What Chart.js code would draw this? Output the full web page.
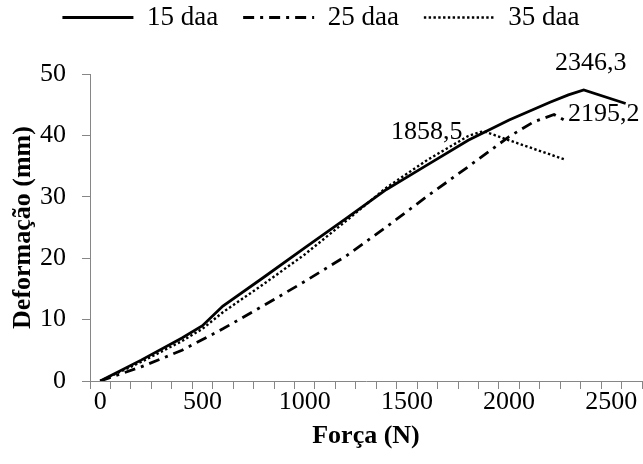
<!DOCTYPE html>
<html>
<head>
<meta charset="utf-8">
<script src="https://cdn.jsdelivr.net/npm/chart.js@4.4.0/dist/chart.umd.min.js"></script>
<style>
  html, body { margin: 0; padding: 0; background: #fff; overflow: hidden; }
  #wrap { width: 643px; height: 464px; overflow: hidden; }
  /* canvas is a bit taller and shifted up so the legend sits close to the top edge */
  #chart { display: block; margin-top: -21px; }
</style>
</head>
<body>
<div id="wrap"><canvas id="chart" width="643" height="485"></canvas></div>
<script>
// --- DATA ---
const seriesNames = ['15 daa', '25 daa', '35 daa'];

const force15 = [0, 200, 400, 500, 600, 800, 1000, 1200, 1400, 1600, 1800, 2000, 2200, 2290, 2365, 2570];
const def15   = [0, 3.4, 7.0, 9.0, 12.2, 16.9, 21.7, 26.4, 31.2, 35.2, 39.2, 42.5, 45.4, 46.6, 47.4, 45.2];

const force25 = [0, 200, 400, 600, 800, 1000, 1200, 1400, 1600, 1800, 2000, 2120, 2220, 2280];
const def25   = [0, 2.3, 5.0, 8.5, 12.3, 16.2, 20.3, 25.1, 30.1, 34.9, 39.8, 42.2, 43.4, 42.3];

const force35 = [0, 200, 400, 500, 600, 800, 1000, 1200, 1400, 1600, 1800, 1875, 2000, 2270];
const def35   = [0, 3.1, 6.5, 8.5, 11.2, 15.8, 20.6, 26.0, 31.5, 36.0, 39.9, 40.7, 39.2, 36.1];

const peakText = ['2346,3', '2195,2', '1858,5'];
const peakSide = ['top', 'right', 'left'];

const xTickLabels = [0, 500, 1000, 1500, 2000, 2500];
const yTickLabels = [0, 10, 20, 30, 40, 50];

const AXIS = '#868686';
const FONT = 'Liberation Serif';
const LEGEND_GAP = 33; // extra room between legend row and plot top

const toPoints = (xs, ys) => xs.map((x, i) => ({ x, y: ys[i] }));

// --- PLUGINS ---
const legendGap = {
    id: 'legendGap',
    beforeLayout(chart) {
        const lg = chart.legend;
        if (!lg || lg._gapPatched) return;
        const fit = lg.fit;
        lg.fit = function () { fit.call(this); this.height += LEGEND_GAP; };
        lg._gapPatched = true;
    }
};

const peakLabels = {
    id: 'peakLabels',
    afterDatasetsDraw(chart) {
        const ctx = chart.ctx;
        ctx.save();
        ctx.font = `26px "${FONT}"`;
        ctx.fillStyle = '#000';
        ctx.textBaseline = 'middle';
        chart.data.datasets.forEach((ds, i) => {
            const ys = ds.data.map(p => p.y);
            const idx = ys.indexOf(Math.max(...ys));
            const pt = chart.getDatasetMeta(i).data[idx];
            if (peakSide[i] === 'top') {
                ctx.textAlign = 'center';
                ctx.fillText(peakText[i], pt.x + 7, pt.y - 27);
            } else if (peakSide[i] === 'right') {
                ctx.textAlign = 'left';
                ctx.fillText(peakText[i], pt.x + 14, pt.y);
            } else {
                ctx.textAlign = 'right';
                ctx.fillText(peakText[i], pt.x - 21, pt.y + 1);
            }
        });
        ctx.restore();
    }
};

// --- CHART ---
const ctx = document.getElementById('chart').getContext('2d');
new Chart(ctx, {
    type: 'line',
    data: {
        datasets: [
            { label: seriesNames[0], data: toPoints(force15, def15), borderColor: '#000', borderWidth: 2.8, borderDash: [] },
            { label: seriesNames[1], data: toPoints(force25, def25), borderColor: '#000', borderWidth: 2.8, borderDash: [11, 6, 3, 6] },
            { label: seriesNames[2], data: toPoints(force35, def35), borderColor: '#000', borderWidth: 2.4, borderDash: [2.4, 2.4] }
        ]
    },
    options: {
        responsive: false,
        animation: false,
        devicePixelRatio: 1,
        elements: { point: { radius: 0 }, line: { tension: 0, fill: false } },
        layout: { padding: { top: 0, right: 1, bottom: 0, left: 0 } },
        plugins: {
            tooltip: { enabled: false },
            legend: {
                position: 'top',
                labels: {
                    usePointStyle: true,
                    pointStyleWidth: 71,
                    padding: 25,
                    color: '#000',
                    font: { family: FONT, size: 27 },
                    generateLabels: chart => chart.data.datasets.map((ds, i) => ({
                        text: ds.label,
                        datasetIndex: i,
                        fillStyle: '#000',
                        strokeStyle: '#000',
                        fontColor: '#000',
                        lineWidth: ds.borderWidth,
                        lineDash: ds.borderDash,
                        lineCap: 'butt',
                        pointStyle: 'line',
                        hidden: false
                    }))
                }
            }
        },
        scales: {
            x: {
                type: 'linear',
                min: -50,
                max: 2650,
                afterFit: s => { s.height = 83; },
                grid: {
                    drawOnChartArea: false,
                    tickLength: 8,
                    tickColor: c => (c.tick && Math.round(c.tick.value) % 100 !== 0) ? AXIS : 'rgba(0,0,0,0)'
                },
                border: { color: AXIS, width: 1 },
                ticks: {
                    stepSize: 50,
                    autoSkip: false,
                    maxRotation: 0,
                    padding: 0,
                    color: '#000',
                    font: { family: FONT, size: 26, lineHeight: 1 },
                    callback: v => xTickLabels.includes(Math.round(v)) ? String(Math.round(v)) : ''
                },
                title: {
                    display: true,
                    text: 'Força (N)',
                    color: '#000',
                    font: { family: FONT, size: 26, weight: 'bold' },
                    padding: { top: 0, bottom: 12 }
                }
            },
            y: {
                min: 0,
                max: 50,
                afterFit: s => { s.width = 90; },
                grid: { drawOnChartArea: false, tickLength: 8, tickColor: AXIS },
                border: { color: AXIS, width: 1 },
                ticks: {
                    stepSize: 10,
                    padding: 16,
                    color: '#000',
                    font: { family: FONT, size: 26 },
                    callback: v => yTickLabels.includes(v) ? String(v) : ''
                },
                title: {
                    display: true,
                    text: 'Deformação (mm)',
                    color: '#000',
                    font: { family: FONT, size: 26, weight: 'bold' },
                    padding: { top: 8, bottom: 0 }
                }
            }
        }
    },
    plugins: [legendGap, peakLabels]
});
</script>
</body>
</html>
